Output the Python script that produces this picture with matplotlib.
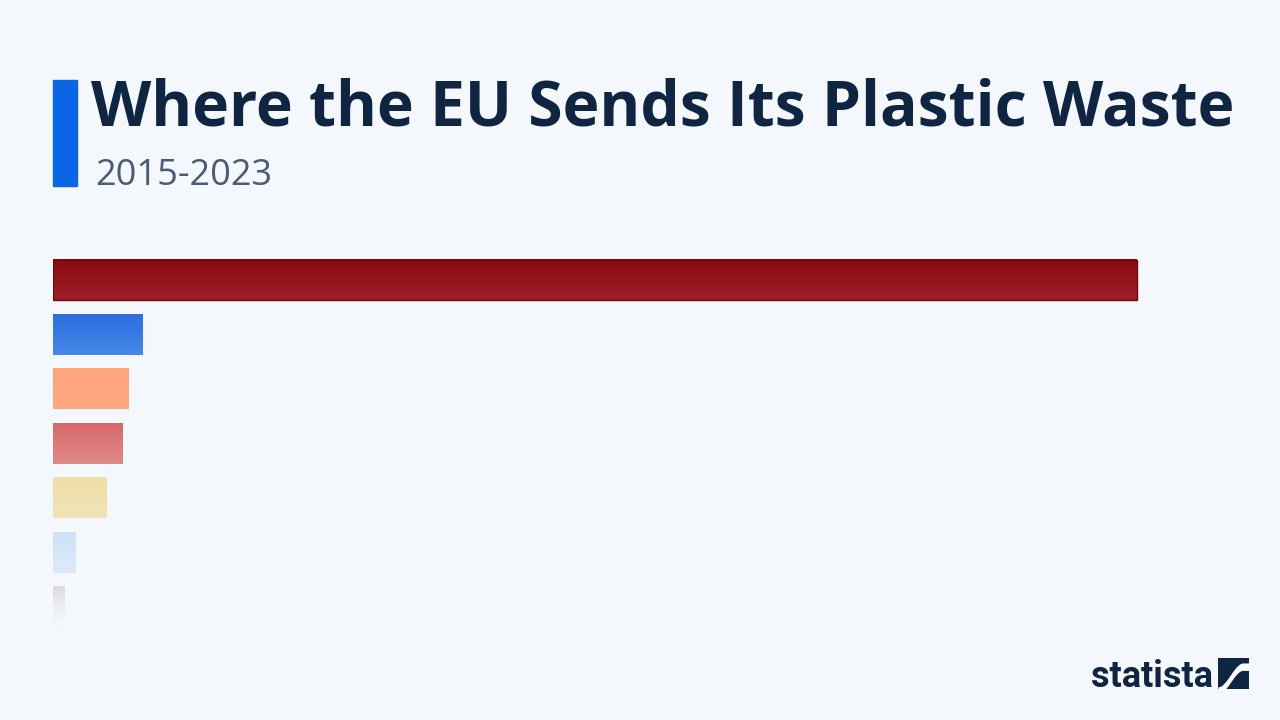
import matplotlib.pyplot as plt
import matplotlib.colors as mcolors
import numpy as np
from matplotlib.patches import Rectangle

# bar lengths (relative units, no labels shown)
categories = ["c1", "c2", "c3", "c4", "c5", "c6", "c7"]
values = [1084, 90, 76, 70, 54, 23, 12]
# gradient colours (top, bottom) and alpha (top, bottom)
top_colors = ["#8b0b13", "#2b6fe0", "#ffa57c", "#d9696b", "#efdfa6", "#cfe2f9", "#dcdbe0"]
bottom_colors = ["#9e1f26", "#4787e8", "#ffa880", "#e08b89", "#efe4b6", "#dde9fa", "#eceef2"]
alphas = [(1, 1), (1, 1), (1, 1), (1, 1), (1, 1), (1, 1), (1, 0)]

title = "Where the EU Sends Its Plastic Waste"
subtitle = "2015-2023"

BG = "#f4f7fb"
NAVY = "#0f2542"
W, H = 1280, 720

plt.rcParams["font.family"] = ["Open Sans", "DejaVu Sans"]

fig = plt.figure(figsize=(W / 100, H / 100), dpi=100, facecolor=BG)


def px(x0, y0, x1, y1):
    # pixel box (top-left origin) -> figure fraction rect
    return [x0 / W, 1 - y1 / H, (x1 - x0) / W, (y1 - y0) / H]


# header
fig.patches.append(Rectangle((53 / W, 1 - 186 / H), 24 / W, 106 / H,
                             transform=fig.transFigure, color="#0a66e4", zorder=2))
fig.text(91 / W, 1 - 125 / H, title, fontsize=44.9, fontweight="bold", color=NAVY,
         ha="left", va="baseline")
fig.text(95 / W, 1 - 185 / H, subtitle, fontsize=26, color="#4a5d77",
         ha="left", va="baseline")

# bars
ax = fig.add_axes(px(53, 252.75, 1253, 634.25))
ax.set_facecolor("none")
hgt = 0.75
for i, v in enumerate(values):
    c0 = np.array(mcolors.to_rgba(top_colors[i], alphas[i][0]))
    c1 = np.array(mcolors.to_rgba(bottom_colors[i], alphas[i][1]))
    t = np.linspace(0, 1, 64)[:, None, None]
    grad = c0 * (1 - t) + c1 * t
    ax.imshow(grad, extent=(0, v, i + hgt / 2, i - hgt / 2), origin="upper",
              aspect="auto", interpolation="bilinear", zorder=2)
ax.add_patch(Rectangle((0, -hgt / 2), values[0], hgt, fill=False,
                       edgecolor="#6e0a10", lw=1.0, zorder=3))
ax.set_xlim(0, 1200)
ax.set_ylim(len(values) - 0.5, -0.5)
ax.axis("off")

# statista logo
fig.text(1091 / W, 1 - 687 / H, "statista", fontsize=26, fontweight="bold",
         color=NAVY, ha="left", va="baseline", family=["Roboto", "DejaVu Sans"])
lax = fig.add_axes(px(1218, 658, 1249, 689))
lax.set_xlim(0, 1)
lax.set_ylim(0, 1)
lax.axis("off")
lax.add_patch(Rectangle((0, 0), 1, 1, color=NAVY))
xs = np.linspace(0, 1, 80)
u = np.clip(xs / 0.8, 0, 1)
mid = -0.05 + 0.77 * u * u * (3 - 2 * u)
lax.fill_between(xs, mid - 0.12, mid + 0.12, color="white", lw=0)

fig.savefig("out.png", dpi=100, facecolor=BG)
